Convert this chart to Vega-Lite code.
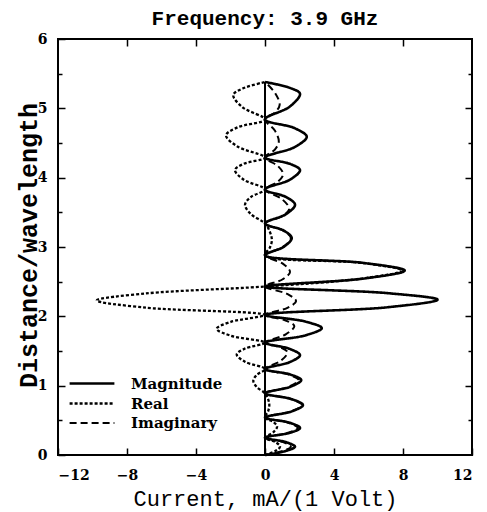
{
  "$schema": "https://vega.github.io/schema/vega-lite/v6.json",
  "width": 414,
  "height": 416,
  "autosize": "none",
  "padding": {"left": 58, "top": 39, "right": 15, "bottom": 57},
  "title": {
    "text": "Frequency: 3.9 GHz",
    "font": "Liberation Mono",
    "fontSize": 21,
    "fontWeight": "bold",
    "color": "black",
    "anchor": "middle",
    "baseline": "alphabetic",
    "offset": -14
  },
  "datasets": {
    "current": [
      {"s": "Magnitude", "y": 5.38, "x": 0}, {"s": "Magnitude", "y": 5.295, "x": 1.44}, {"s": "Magnitude", "y": 5.21, "x": 2.03}, {"s": "Magnitude", "y": 5.025, "x": 1.44}, {"s": "Magnitude", "y": 4.84, "x": 0},
      {"s": "Magnitude", "y": 4.715, "x": 1.71}, {"s": "Magnitude", "y": 4.59, "x": 2.42}, {"s": "Magnitude", "y": 4.44, "x": 1.71}, {"s": "Magnitude", "y": 4.29, "x": 0},
      {"s": "Magnitude", "y": 4.2, "x": 1.44}, {"s": "Magnitude", "y": 4.11, "x": 2.03}, {"s": "Magnitude", "y": 3.97, "x": 1.44}, {"s": "Magnitude", "y": 3.83, "x": 0},
      {"s": "Magnitude", "y": 3.72, "x": 1.23}, {"s": "Magnitude", "y": 3.61, "x": 1.74}, {"s": "Magnitude", "y": 3.475, "x": 1.23}, {"s": "Magnitude", "y": 3.34, "x": 0},
      {"s": "Magnitude", "y": 3.235, "x": 1.1}, {"s": "Magnitude", "y": 3.13, "x": 1.55}, {"s": "Magnitude", "y": 3.005, "x": 1.1}, {"s": "Magnitude", "y": 2.88, "x": 0},
      {"s": "Magnitude", "y": 2.77, "x": 5.73}, {"s": "Magnitude", "y": 2.66, "x": 8.1}, {"s": "Magnitude", "y": 2.545, "x": 5.73}, {"s": "Magnitude", "y": 2.43, "x": 0},
      {"s": "Magnitude", "y": 2.335, "x": 7.07}, {"s": "Magnitude", "y": 2.24, "x": 10.0}, {"s": "Magnitude", "y": 2.13, "x": 7.07}, {"s": "Magnitude", "y": 2.02, "x": 0},
      {"s": "Magnitude", "y": 1.925, "x": 2.33}, {"s": "Magnitude", "y": 1.83, "x": 3.29}, {"s": "Magnitude", "y": 1.725, "x": 2.33}, {"s": "Magnitude", "y": 1.62, "x": 0},
      {"s": "Magnitude", "y": 1.53, "x": 1.44}, {"s": "Magnitude", "y": 1.44, "x": 2.03}, {"s": "Magnitude", "y": 1.34, "x": 1.44}, {"s": "Magnitude", "y": 1.24, "x": 0},
      {"s": "Magnitude", "y": 1.16, "x": 1.48}, {"s": "Magnitude", "y": 1.08, "x": 2.1}, {"s": "Magnitude", "y": 0.985, "x": 1.48}, {"s": "Magnitude", "y": 0.89, "x": 0},
      {"s": "Magnitude", "y": 0.805, "x": 1.56}, {"s": "Magnitude", "y": 0.72, "x": 2.2}, {"s": "Magnitude", "y": 0.63, "x": 1.56}, {"s": "Magnitude", "y": 0.54, "x": 0},
      {"s": "Magnitude", "y": 0.465, "x": 1.44}, {"s": "Magnitude", "y": 0.39, "x": 2.03}, {"s": "Magnitude", "y": 0.32, "x": 1.44}, {"s": "Magnitude", "y": 0.25, "x": 0},
      {"s": "Magnitude", "y": 0.185, "x": 1.23}, {"s": "Magnitude", "y": 0.12, "x": 1.74}, {"s": "Magnitude", "y": 0.06, "x": 1.23}, {"s": "Magnitude", "y": 0.0, "x": 0},

      {"s": "Real", "y": 5.38, "x": 0}, {"s": "Real", "y": 5.285, "x": -1.3}, {"s": "Real", "y": 5.19, "x": -1.84}, {"s": "Real", "y": 5.015, "x": -1.3}, {"s": "Real", "y": 4.84, "x": 0},
      {"s": "Real", "y": 4.725, "x": -1.6}, {"s": "Real", "y": 4.61, "x": -2.26}, {"s": "Real", "y": 4.45, "x": -1.6}, {"s": "Real", "y": 4.29, "x": 0},
      {"s": "Real", "y": 4.2, "x": -1.23}, {"s": "Real", "y": 4.11, "x": -1.74}, {"s": "Real", "y": 3.97, "x": -1.23}, {"s": "Real", "y": 3.83, "x": 0},
      {"s": "Real", "y": 3.72, "x": -0.82}, {"s": "Real", "y": 3.61, "x": -1.16}, {"s": "Real", "y": 3.475, "x": -0.82}, {"s": "Real", "y": 3.34, "x": 0},
      {"s": "Real", "y": 3.22, "x": 0.28}, {"s": "Real", "y": 3.1, "x": 0.4}, {"s": "Real", "y": 2.99, "x": 0.28}, {"s": "Real", "y": 2.88, "x": 0},
      {"s": "Real", "y": 2.77, "x": 5.62}, {"s": "Real", "y": 2.66, "x": 7.95}, {"s": "Real", "y": 2.545, "x": 5.62}, {"s": "Real", "y": 2.43, "x": 0},
      {"s": "Real", "y": 2.33, "x": -6.9}, {"s": "Real", "y": 2.23, "x": -9.76}, {"s": "Real", "y": 2.125, "x": -6.9}, {"s": "Real", "y": 2.02, "x": 0},
      {"s": "Real", "y": 1.92, "x": -1.98}, {"s": "Real", "y": 1.82, "x": -2.8}, {"s": "Real", "y": 1.72, "x": -1.98}, {"s": "Real", "y": 1.62, "x": 0},
      {"s": "Real", "y": 1.535, "x": -1.16}, {"s": "Real", "y": 1.45, "x": -1.64}, {"s": "Real", "y": 1.345, "x": -1.16}, {"s": "Real", "y": 1.24, "x": 0},
      {"s": "Real", "y": 1.155, "x": -0.48}, {"s": "Real", "y": 1.07, "x": -0.68}, {"s": "Real", "y": 0.98, "x": -0.48}, {"s": "Real", "y": 0.89, "x": 0},
      {"s": "Real", "y": 0.805, "x": 0.18}, {"s": "Real", "y": 0.72, "x": 0.25}, {"s": "Real", "y": 0.63, "x": 0.18}, {"s": "Real", "y": 0.54, "x": 0},
      {"s": "Real", "y": 0.475, "x": 0.49}, {"s": "Real", "y": 0.41, "x": 0.7}, {"s": "Real", "y": 0.33, "x": 0.49}, {"s": "Real", "y": 0.25, "x": 0},
      {"s": "Real", "y": 0.185, "x": 0.62}, {"s": "Real", "y": 0.12, "x": 0.87}, {"s": "Real", "y": 0.06, "x": 0.62}, {"s": "Real", "y": 0.0, "x": 0},

      {"s": "Imaginary", "y": 5.38, "x": 0}, {"s": "Imaginary", "y": 5.215, "x": 0.6}, {"s": "Imaginary", "y": 5.05, "x": 0.85}, {"s": "Imaginary", "y": 4.945, "x": 0.6}, {"s": "Imaginary", "y": 4.84, "x": 0},
      {"s": "Imaginary", "y": 4.68, "x": 0.57}, {"s": "Imaginary", "y": 4.52, "x": 0.8}, {"s": "Imaginary", "y": 4.405, "x": 0.57}, {"s": "Imaginary", "y": 4.29, "x": 0},
      {"s": "Imaginary", "y": 4.17, "x": 0.74}, {"s": "Imaginary", "y": 4.05, "x": 1.05}, {"s": "Imaginary", "y": 3.94, "x": 0.74}, {"s": "Imaginary", "y": 3.83, "x": 0},
      {"s": "Imaginary", "y": 3.69, "x": 0.99}, {"s": "Imaginary", "y": 3.55, "x": 1.4}, {"s": "Imaginary", "y": 3.445, "x": 0.99}, {"s": "Imaginary", "y": 3.34, "x": 0},
      {"s": "Imaginary", "y": 3.235, "x": 1.06}, {"s": "Imaginary", "y": 3.13, "x": 1.5}, {"s": "Imaginary", "y": 3.005, "x": 1.06}, {"s": "Imaginary", "y": 2.88, "x": 0},
      {"s": "Imaginary", "y": 2.76, "x": 1.03}, {"s": "Imaginary", "y": 2.64, "x": 1.45}, {"s": "Imaginary", "y": 2.535, "x": 1.03}, {"s": "Imaginary", "y": 2.43, "x": 0},
      {"s": "Imaginary", "y": 2.325, "x": 1.27}, {"s": "Imaginary", "y": 2.22, "x": 1.8}, {"s": "Imaginary", "y": 2.12, "x": 1.27}, {"s": "Imaginary", "y": 2.02, "x": 0},
      {"s": "Imaginary", "y": 1.94, "x": 1.2}, {"s": "Imaginary", "y": 1.86, "x": 1.7}, {"s": "Imaginary", "y": 1.74, "x": 1.2}, {"s": "Imaginary", "y": 1.62, "x": 0},
      {"s": "Imaginary", "y": 1.55, "x": 0.92}, {"s": "Imaginary", "y": 1.48, "x": 1.3}, {"s": "Imaginary", "y": 1.36, "x": 0.92}, {"s": "Imaginary", "y": 1.24, "x": 0},
      {"s": "Imaginary", "y": 1.16, "x": 1.38}, {"s": "Imaginary", "y": 1.08, "x": 1.95}, {"s": "Imaginary", "y": 0.985, "x": 1.38}, {"s": "Imaginary", "y": 0.89, "x": 0},
      {"s": "Imaginary", "y": 0.805, "x": 1.52}, {"s": "Imaginary", "y": 0.72, "x": 2.15}, {"s": "Imaginary", "y": 0.63, "x": 1.52}, {"s": "Imaginary", "y": 0.54, "x": 0},
      {"s": "Imaginary", "y": 0.465, "x": 1.34}, {"s": "Imaginary", "y": 0.39, "x": 1.9}, {"s": "Imaginary", "y": 0.32, "x": 1.34}, {"s": "Imaginary", "y": 0.25, "x": 0},
      {"s": "Imaginary", "y": 0.185, "x": 1.06}, {"s": "Imaginary", "y": 0.12, "x": 1.5}, {"s": "Imaginary", "y": 0.06, "x": 1.06}, {"s": "Imaginary", "y": 0.0, "x": 0}
    ],
    "wire": [
      {"x": 0, "y": 0, "y2": 5.38}
    ]
  },
  "config": {
    "font": "DejaVu Serif",
    "view": {"stroke": "black", "strokeWidth": 2},
    "axis": {
      "domain": false,
      "grid": false,
      "tickColor": "black",
      "tickWidth": 1.5,
      "labelColor": "black",
      "labelFont": "DejaVu Serif",
      "labelFontWeight": "bold",
      "labelFontSize": 14,
      "titleColor": "black",
      "titleFont": "Liberation Mono"
    }
  },
  "layer": [
    {
      "data": {"name": "current"},
      "mark": {"type": "line", "interpolate": "catmull-rom", "color": "black"},
      "encoding": {
        "x": {
          "field": "x",
          "type": "quantitative",
          "scale": {"domain": [-12, 12], "nice": false, "zero": false},
          "axis": {
            "orient": "bottom",
            "values": [-12, -8, -4, 0, 4, 8, 12],
            "tickSize": -7,
            "labelPadding": 20,
            "title": "Current, mA/(1 Volt)",
            "titleFontSize": 22,
            "titleFontWeight": "normal",
            "titleBaseline": "alphabetic",
            "titleY": 50
          }
        },
        "y": {
          "field": "y",
          "type": "quantitative",
          "scale": {"domain": [0, 6], "nice": false, "zero": false},
          "axis": {
            "orient": "left",
            "values": [0, 0.5, 1, 1.5, 2, 2.5, 3, 3.5, 4, 4.5, 5, 5.5, 6],
            "format": ".0f",
            "labelExpr": "datum.value % 1 === 0 ? datum.label : ''",
            "tickSize": {"condition": {"test": "datum.value % 1 !== 0", "value": -4}, "value": -7},
            "labelPadding": 18,
            "title": "Distance/wavelength",
            "titleFontSize": 25,
            "titleFontWeight": "bold",
            "titleBaseline": "alphabetic",
            "titleX": -22,
            "titleY": 206
          }
        },
        "order": {"field": "y", "type": "quantitative"},
        "strokeDash": {
          "field": "s",
          "type": "nominal",
          "scale": {"domain": ["Magnitude", "Real", "Imaginary"], "range": [[1, 0], [3, 2], [7, 4]]},
          "legend": {
            "orient": "none",
            "legendX": 24.5,
            "legendY": 335,
            "title": null,
            "symbolType": "M-2.8,0H2.8",
            "symbolSize": 256,
            "symbolStrokeColor": "black",
            "symbolStrokeWidth": 2,
            "rowPadding": 2,
            "labelFont": "DejaVu Serif",
            "labelFontWeight": "bold",
            "labelFontSize": 15,
            "labelColor": "black",
            "labelOffset": 29.5
          }
        },
        "strokeWidth": {
          "field": "s",
          "type": "nominal",
          "scale": {"domain": ["Magnitude", "Real", "Imaginary"], "range": [2.6, 2, 2]},
          "legend": null
        }
      }
    },
    {
      "data": {"name": "wire"},
      "mark": {"type": "rule", "color": "black", "strokeWidth": 2},
      "encoding": {
        "x": {
          "field": "x",
          "type": "quantitative",
          "axis": {"orient": "top", "values": [-8, -4, 0, 4, 8], "tickSize": -7, "labels": false, "title": null}
        },
        "y": {
          "field": "y",
          "type": "quantitative",
          "axis": {
            "orient": "right",
            "values": [0.5, 1, 1.5, 2, 2.5, 3, 3.5, 4, 4.5, 5, 5.5],
            "tickSize": {"condition": {"test": "datum.value % 1 !== 0", "value": -4}, "value": -7},
            "labels": false,
            "title": null
          }
        },
        "y2": {"field": "y2"}
      }
    }
  ],
  "resolve": {"axis": {"x": "independent", "y": "independent"}}
}
